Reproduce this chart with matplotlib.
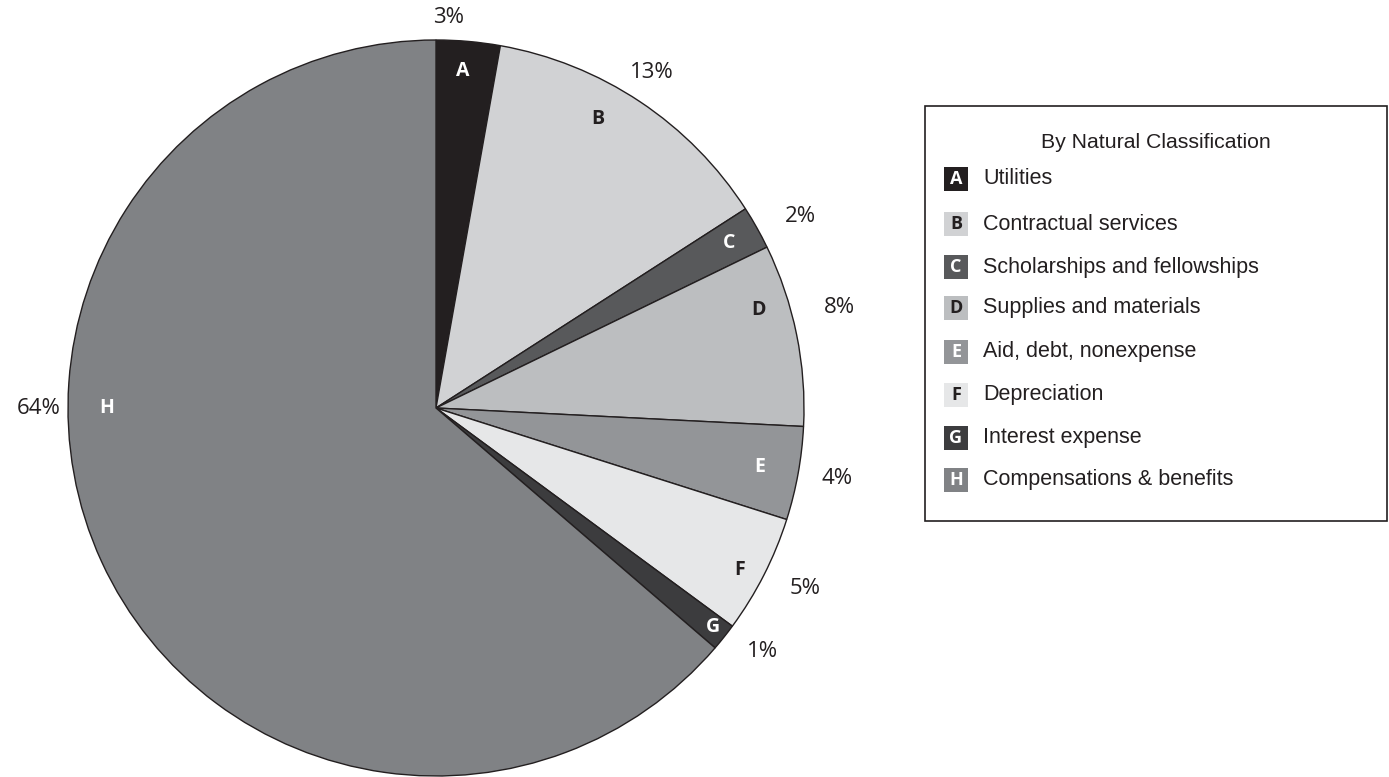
import numpy as np
import matplotlib
matplotlib.use("Agg")
import matplotlib.pyplot as plt
from matplotlib.patches import Rectangle

# data
letters = ["A", "B", "C", "D", "E", "F", "G", "H"]
categories = ["Utilities", "Contractual services", "Scholarships and fellowships",
              "Supplies and materials", "Aid, debt, nonexpense", "Depreciation",
              "Interest expense", "Compensations & benefits"]
shares = [2.8, 13.1, 1.9, 8.0, 4.1, 5.2, 1.2, 63.7]
pct_labels = ["3%", "13%", "2%", "8%", "4%", "5%", "1%", "64%"]
legend_title = "By Natural Classification"

# styling
colors = ["#231f20", "#d1d2d4", "#58595b", "#bcbec0", "#939598", "#e6e7e8", "#3c3c3e", "#808285"]
letter_colors = ["white", "#231f20", "white", "#231f20", "white", "#231f20", "white", "white"]
# label placement: (angle clockwise from top in degrees, radius)
letter_pos = [(4.6, 0.92), (29.2, 0.90), (60.6, 0.915), (73.0, 0.915),
              (100.3, 0.895), (118.0, 0.935), (128.3, 0.96), (270.0, 0.894)]
pct_pos = [(1.9, 1.063), (32.8, 1.083), (62.2, 1.118), (76.0, 1.13),
           (100.0, 1.107), (116.0, 1.117), (126.7, 1.105), (270.0, 1.08)]

cond = ["Open Sans", "DejaVu Sans"]        # condensed bold letters
legend_font = ["Liberation Sans", "DejaVu Sans"]
humanist = ["Open Sans", "DejaVu Sans"]

W, H = 1389, 777
fig = plt.figure(figsize=(W / 100, H / 100), dpi=100)
cx, cy, r = 436, 408, 368
ax = fig.add_axes([(cx - r) / W, (H - cy - r) / H, 2 * r / W, 2 * r / H])
ax.pie(shares, colors=colors, startangle=90, counterclock=False, radius=1,
       wedgeprops=dict(edgecolor="#231f20", linewidth=1.0))
ax.set_xlim(-1, 1)
ax.set_ylim(-1, 1)
ax.set_aspect("equal")
ax.axis("off")


def polar(a, rad):
    t = np.deg2rad(a)
    return rad * np.sin(t), rad * np.cos(t)


for i, let in enumerate(letters):
    x, y = polar(*letter_pos[i])
    ax.text(x, y, let, ha="center", va="center", fontsize=14, fontweight="bold",
            color=letter_colors[i], family=cond, fontstretch="condensed")
    x, y = polar(*pct_pos[i])
    ax.text(x, y, pct_labels[i], ha="center", va="center", fontsize=16,
            color="#231f20", family=humanist, fontstretch="normal", clip_on=False)

# legend box drawn by hand
bx0, by0, bx1, by1 = 925, 106, 1387, 521
fig.patches.append(Rectangle((bx0 / W, 1 - by1 / H), (bx1 - bx0) / W, (by1 - by0) / H,
                             transform=fig.transFigure, facecolor="white",
                             edgecolor="#231f20", linewidth=1.2))
fig.text(1156 / W, 1 - 142 / H, legend_title, ha="center", va="center",
         fontsize=15.3, family=legend_font, color="#231f20")
row_y = [179, 224, 267, 308, 352, 395, 438, 480]
sq = 24
for i, let in enumerate(letters):
    y = row_y[i]
    fig.patches.append(Rectangle((944 / W, 1 - (y + sq / 2) / H), sq / W, sq / H,
                                 transform=fig.transFigure, facecolor=colors[i],
                                 edgecolor="none"))
    fig.text(956 / W, 1 - y / H, let, ha="center", va="center", fontsize=13,
             fontweight="bold", color=letter_colors[i], family=cond,
             fontstretch="condensed")
    fig.text(983 / W, 1 - y / H, categories[i], ha="left", va="center",
             fontsize=15.5, family=legend_font, color="#231f20")

fig.savefig("out.png", dpi=100)
